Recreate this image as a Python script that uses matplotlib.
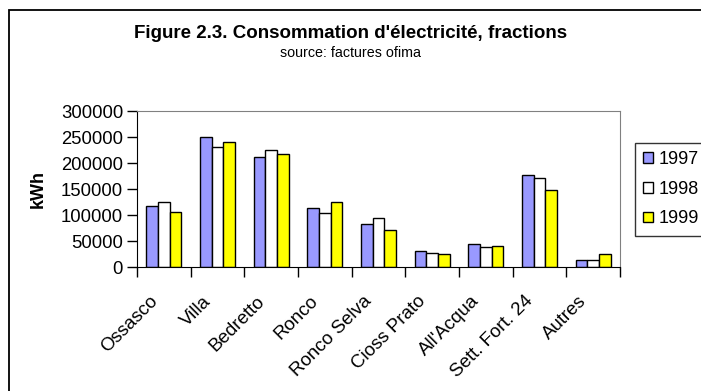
import numpy as np
import matplotlib.pyplot as plt
import matplotlib.patches as patches

plt.rcParams['font.family'] = ['Liberation Sans', 'DejaVu Sans']

# Données de consommation (kWh) par fraction
fractions = ['Ossasco', 'Villa', 'Bedretto', 'Ronco', 'Ronco Selva',
             'Cioss Prato', "All'Acqua", 'Sett. Fort. 24', 'Autres']
annees = ['1997', '1998', '1999']
kwh_1997 = [117000, 250000, 211000, 114000, 83000, 30000, 44000, 177000, 13000]
kwh_1998 = [125000, 230000, 225000, 103000, 94000, 27000, 38500, 172000, 13000]
kwh_1999 = [105000, 240000, 217000, 125000, 72000, 24500, 41000, 148000, 24500]
couleurs = ['#9999ff', '#ffffff', '#ffff00']

W, H = 701, 391
fig = plt.figure(figsize=(W / 100, H / 100), dpi=100)

# cadre extérieur du graphique (déborde à droite et en bas)
fig.patches.append(patches.Rectangle((9 / W, -0.1), 1.2, 1.1 - 10 / H,
                                     transform=fig.transFigure, fill=False,
                                     edgecolor='black', lw=1.3))

ax = fig.add_axes([137 / W, 1 - 267 / H, (620 - 137) / W, (267 - 111) / H])

x = np.arange(len(fractions))
bw = 0.218
series = [kwh_1997, kwh_1998, kwh_1999]
for i, (vals, c, lab) in enumerate(zip(series, couleurs, annees)):
    ax.bar(x + (i - 1) * bw, vals, width=bw, color=c, edgecolor='black',
           linewidth=1.0, label=lab)

ax.set_xlim(-0.5, len(fractions) - 0.5)
ax.set_ylim(0, 300000)
ax.set_yticks(np.arange(0, 300001, 50000))
ax.set_yticklabels([str(v) for v in range(0, 300001, 50000)], fontsize=13.3)
ax.tick_params(axis='y', direction='out', length=7, width=1, pad=3)

# graduations entre les catégories
ax.set_xticks(np.arange(-0.5, len(fractions), 1.0))
ax.set_xticklabels([])
ax.tick_params(axis='x', direction='out', length=7, width=1)
for xi, name in zip(x, fractions):
    ax.text(xi - 0.28, -0.165, name, transform=ax.get_xaxis_transform(),
            rotation=45, ha='right', va='top', rotation_mode='anchor',
            fontsize=13.5)

for s in ['top', 'right']:
    ax.spines[s].set_color('#808080')
for s in ['left', 'bottom']:
    ax.spines[s].set_color('black')

ax.set_ylabel('kWh', fontsize=13, fontweight='bold')
ax.yaxis.set_label_coords((47 - 137) / 483, 0.5)

fig.text(351 / W, 1 - 33 / H, "Figure 2.3. Consommation d'électricité, fractions",
         ha='center', va='center', fontsize=13.5, fontweight='bold')
fig.text(351 / W, 1 - 53 / H, 'source: factures ofima',
         ha='center', va='center', fontsize=10.3)

leg = fig.legend(loc='upper left', bbox_to_anchor=(635 / W, 1 - 143 / H),
                 fontsize=13, frameon=True, fancybox=False, edgecolor='black',
                 handlelength=0.55, handleheight=0.55, handletextpad=0.3,
                 labelspacing=0.7, borderpad=0.45, borderaxespad=0)
leg.get_frame().set_linewidth(1.0)

fig.savefig('out.png', dpi=100)
